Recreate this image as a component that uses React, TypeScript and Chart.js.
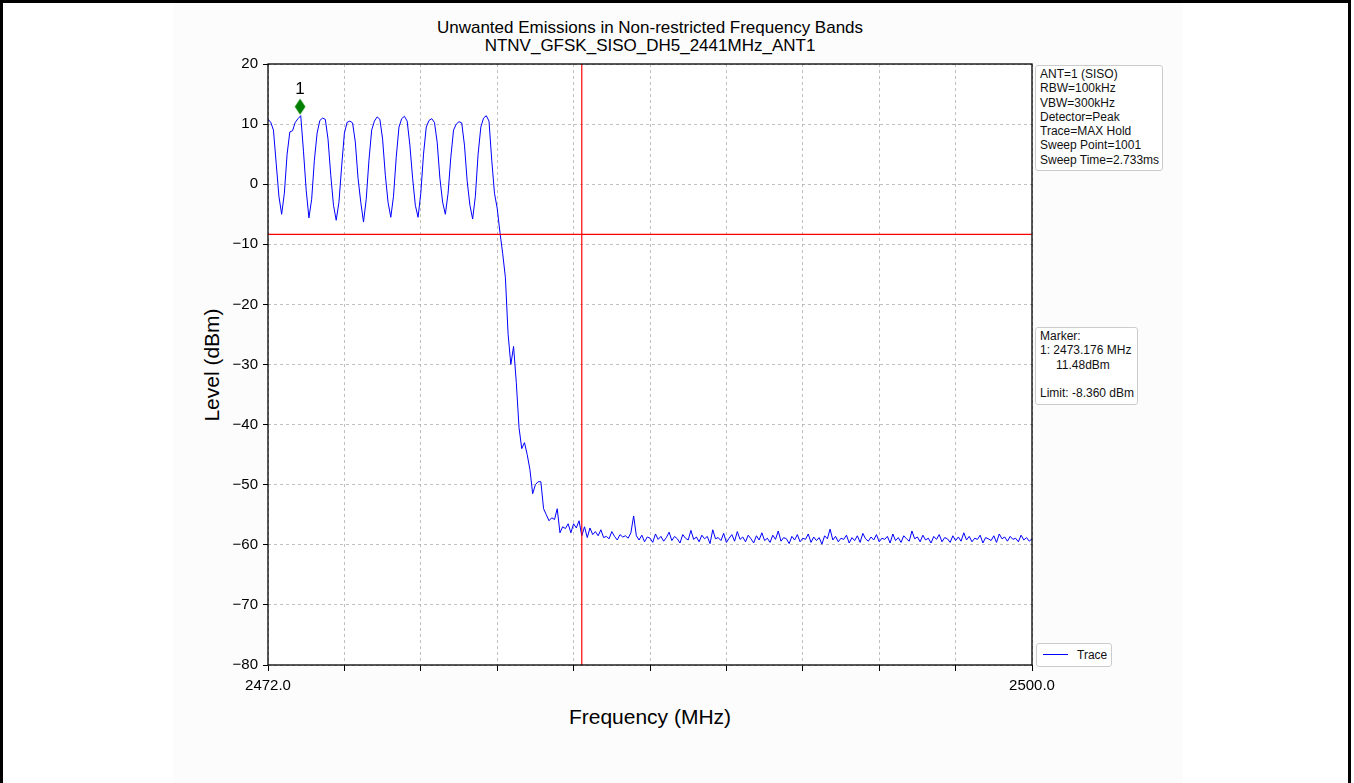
import React, { useEffect, useRef } from "react";
import { Chart, registerables } from "chart.js";

Chart.register(...registerables);

// ---- data ----
const TITLE_LINES = [
  "Unwanted Emissions in Non-restricted Frequency Bands",
  "NTNV_GFSK_SISO_DH5_2441MHz_ANT1",
];
const X_LABEL = "Frequency (MHz)";
const Y_LABEL = "Level (dBm)";

const FREQ_START = 2472.0;
const FREQ_STOP = 2500.0;
const FREQ_STEP = 0.1;

// trace levels (dBm), one per 0.1 MHz from 2472.0 to 2500.0
const LEVELS = [
  // 2472.0 - 2472.9
  10.8, 10.3, 9.0, 3.5, -2.0, -5.0, -1.5, 5.0, 8.7, 8.9,
  // 2473.0 - 2473.9
  10.3, 10.9, 11.4, 5.5, -1.0, -5.6, -2.5, 4.0, 8.5, 10.6,
  // 2474.0 - 2474.9
  11.0, 10.8, 7.5, 1.5, -3.5, -6.0, -3.0, 3.0, 8.5, 10.3,
  // 2475.0 - 2475.9
  10.5, 10.2, 7.0, 1.0, -3.0, -6.3, -2.5, 4.0, 9.0, 10.5,
  // 2476.0 - 2476.9
  11.2, 10.8, 7.5, 1.5, -3.0, -5.5, -2.0, 4.5, 9.5, 10.9,
  // 2477.0 - 2477.9
  11.3, 10.5, 6.5, 1.0, -3.5, -5.5, -1.5, 5.0, 9.5, 10.6,
  // 2478.0 - 2478.9
  10.9, 10.3, 7.0, 1.0, -3.0, -5.0, -1.5, 4.5, 9.0, 10.0,
  // 2479.0 - 2479.9
  10.4, 10.2, 6.5, 0.5, -3.5, -5.8, -2.0, 5.0, 9.5, 11.0,
  // 2480.0 - 2480.9
  11.4, 10.5, 4.0, -1.5, -4.0, -8.0, -11.5, -15.5, -25.0, -30.0,
  // 2481.0 - 2481.9
  -27.0, -33.0, -40.5, -44.0, -43.0, -45.0, -47.5, -51.5, -50.0, -49.5,
  // 2482.0 - 2482.9
  -49.5, -54.0, -55.0, -56.0, -55.5, -55.8, -54.0, -58.0, -57.0, -57.3,
  // 2483.0 - 2483.9
  -56.5, -58.0, -56.5, -57.2, -56.0, -58.5, -57.0, -58.8, -57.2, -58.3,
  // 2484.0 - 2484.9
  -57.8, -58.5, -57.5, -58.8, -58.6, -59.0, -57.8, -58.6, -59.2, -58.3,
  // 2485.0 - 2485.4
  -58.7, -58.5, -58.9, -58.0, -55.2,
  // 2485.5 - 2500.0
  -58.5, -59.2, -58.4, -59.5, -58.7, -58.9, -59.6, -58.2, -59.1, -58.6,
  -59.4, -58.8, -57.9, -59.3, -58.6, -59.0, -59.7, -58.3, -58.9, -59.2,
  -57.6, -59.1, -58.7, -59.5, -58.4, -59.0, -58.6, -59.8, -57.5, -59.0,
  -58.8, -59.3, -58.1, -59.6, -58.9, -58.3, -59.4, -57.8, -59.1, -58.7,
  -59.5, -58.4, -59.0, -59.7, -58.5, -59.2, -58.0, -59.3, -58.9, -59.6,
  -58.4, -59.1, -57.7, -59.4, -58.8, -59.0, -59.8, -58.6, -59.2, -58.3,
  -59.5, -58.9, -59.1, -58.2, -59.6, -58.7, -59.3, -58.8, -59.9, -58.5,
  -59.0, -57.4, -59.2, -58.6, -59.5, -58.9, -59.1, -58.4, -59.7, -58.8,
  -59.3, -58.5, -59.6, -58.1, -59.0, -59.4, -58.7, -59.2, -58.3, -59.5,
  -58.9, -59.1, -58.6, -59.7, -58.2, -59.3, -58.8, -59.6, -58.5, -59.0,
  -59.4, -57.7, -59.0, -58.7, -59.5, -58.4, -59.2, -58.9, -59.7, -58.6,
  -59.1, -58.3, -59.5, -58.8, -59.0, -59.6, -58.5, -59.3, -58.7, -59.4,
  -58.0, -59.2, -58.6, -59.5, -58.9, -59.1, -58.4, -59.7, -58.8, -59.0,
  -59.3, -58.5, -59.6, -58.2, -59.0, -58.7, -59.4, -58.6, -59.1, -58.9,
  -59.5, -58.4, -59.2, -58.8, -59.4, -59.0,
];

const LIMIT_LEVEL = -8.36;
const BAND_EDGE_FREQ = 2483.5;
const MARKER_FREQ = 2473.176;
const MARKER_PLOT_LEVEL = 12.9;
const MARKER_LABEL = "1";

const X_TICKS = [2472.0, 2474.8, 2477.6, 2480.4, 2483.2, 2486.0, 2488.8, 2491.6, 2494.4, 2497.2, 2500.0];
const Y_MIN = -80;
const Y_MAX = 20;
const Y_STEP = 10;

const INFO_LINES = [
  "ANT=1 (SISO)",
  "RBW=100kHz",
  "VBW=300kHz",
  "Detector=Peak",
  "Trace=MAX Hold",
  "Sweep Point=1001",
  "Sweep Time=2.733ms",
];
const MARKER_LINES = ["Marker:", "1: 2473.176 MHz", "11.48dBm", "", "Limit: -8.360 dBm"];
const LEGEND_LABEL = "Trace";

const FONT = "'Liberation Sans', Arial, Helvetica, sans-serif";

function makeDiamond(): HTMLCanvasElement {
  const c = document.createElement("canvas");
  c.width = 12;
  c.height = 17;
  const g = c.getContext("2d")!;
  g.fillStyle = "#008000";
  g.beginPath();
  g.moveTo(6, 0.5);
  g.lineTo(11.3, 8.5);
  g.lineTo(6, 16.5);
  g.lineTo(0.7, 8.5);
  g.closePath();
  g.fill();
  return c;
}

export default function App() {
  const canvasRef = useRef<HTMLCanvasElement | null>(null);

  useEffect(() => {
    const canvas = canvasRef.current;
    if (!canvas) return;

    const tracePts = LEVELS.map((v, i) => ({ x: FREQ_START + i * FREQ_STEP, y: v }));

    const framePlugin = {
      id: "framePlugin",
      beforeDraw(chart: any) {
        const { ctx, chartArea } = chart;
        ctx.save();
        ctx.fillStyle = "#ffffff";
        ctx.fillRect(chartArea.left, chartArea.top, chartArea.right - chartArea.left, chartArea.bottom - chartArea.top);
        ctx.restore();
      },
      afterDraw(chart: any) {
        const { ctx, chartArea, scales } = chart;
        ctx.save();
        ctx.strokeStyle = "#000000";
        ctx.lineWidth = 1.3;
        ctx.strokeRect(chartArea.left, chartArea.top, chartArea.right - chartArea.left, chartArea.bottom - chartArea.top);
        const mx = scales.x.getPixelForValue(MARKER_FREQ);
        const my = scales.y.getPixelForValue(MARKER_PLOT_LEVEL);
        ctx.fillStyle = "#000000";
        ctx.font = `17px ${FONT}`;
        ctx.textAlign = "center";
        ctx.textBaseline = "middle";
        ctx.fillText(MARKER_LABEL, mx, my - 17);
        ctx.restore();
      },
    };

    const chart = new Chart(canvas, {
      type: "line",
      data: {
        datasets: [
          {
            label: LEGEND_LABEL,
            data: tracePts,
            borderColor: "#0000ff",
            borderWidth: 1,
            pointRadius: 0,
            tension: 0,
            order: 3,
          },
          {
            label: "Limit",
            data: [
              { x: FREQ_START, y: LIMIT_LEVEL },
              { x: FREQ_STOP, y: LIMIT_LEVEL },
            ],
            borderColor: "#ff0000",
            borderWidth: 1.2,
            pointRadius: 0,
            order: 2,
          },
          {
            label: "Band edge",
            data: [
              { x: BAND_EDGE_FREQ, y: Y_MIN },
              { x: BAND_EDGE_FREQ, y: Y_MAX },
            ],
            borderColor: "#ff0000",
            borderWidth: 1.2,
            pointRadius: 0,
            order: 2,
          },
          {
            label: "Marker",
            data: [{ x: MARKER_FREQ, y: MARKER_PLOT_LEVEL }],
            showLine: false,
            pointStyle: makeDiamond() as any,
            pointRadius: 6,
            borderWidth: 0,
            order: 1,
          },
        ],
      },
      options: {
        animation: false,
        responsive: false,
        devicePixelRatio: 1,
        layout: { padding: { left: 208, right: 322, top: 64, bottom: 68 } },
        plugins: {
          legend: { display: false },
          tooltip: { enabled: false },
          title: { display: false },
        },
        scales: {
          x: {
            type: "linear",
            min: FREQ_START,
            max: FREQ_STOP,
            afterBuildTicks: (scale: any) => {
              scale.ticks = X_TICKS.map((v) => ({ value: v }));
            },
            afterFit: (scale: any) => {
              scale.height = 50;
            },
            ticks: {
              autoSkip: false,
              maxRotation: 0,
              color: "#000000",
              padding: 6,
              font: { family: FONT, size: 15 },
              callback: (value: any, index: number, ticks: any[]) =>
                index === 0 || index === ticks.length - 1 ? Number(value).toFixed(1) : "",
            },
            grid: {
              color: "#b0b0b0",
              lineWidth: 0.8,
              drawTicks: true,
              tickLength: 6,
              tickColor: "#000000",
              tickWidth: 1,
            },
            border: { display: false, dash: [3, 3] },
          },
          y: {
            type: "linear",
            min: Y_MIN,
            max: Y_MAX,
            afterFit: (scale: any) => {
              scale.width = 60;
            },
            ticks: {
              stepSize: Y_STEP,
              color: "#000000",
              padding: 5,
              font: { family: FONT, size: 15 },
              callback: (value: any) => {
                const v = Number(value);
                return v < 0 ? "\u2212" + Math.abs(v) : String(v);
              },
            },
            grid: {
              color: "#b0b0b0",
              lineWidth: 0.8,
              drawTicks: true,
              tickLength: 5,
              tickColor: "#000000",
              tickWidth: 1,
            },
            border: { display: false, dash: [3, 3] },
          },
        },
      },
      plugins: [framePlugin],
    } as any);

    return () => {
      chart.destroy();
    };
  }, []);

  const boxStyle: React.CSSProperties = {
    position: "absolute",
    background: "#ffffff",
    border: "1px solid #cccccc",
    borderRadius: 3,
    fontFamily: FONT,
    fontSize: 12,
    lineHeight: "14.3px",
    color: "#111111",
    boxSizing: "border-box",
    whiteSpace: "pre",
  };

  return (
    <div
      style={{
        position: "fixed",
        left: 0,
        top: 0,
        width: 1354,
        height: 783,
        background: "#ffffff",
        overflow: "hidden",
      }}
    >
      <div
        style={{
          position: "absolute",
          left: 173,
          top: 0,
          width: 1010,
          height: 783,
          background: "#fcfcfc",
        }}
      />
      <div
        style={{
          position: "absolute",
          left: 0,
          top: 0,
          width: 1351,
          height: 790,
          borderTop: "3px solid #000",
          borderLeft: "3px solid #000",
          borderRight: "3px solid #000",
          boxSizing: "border-box",
        }}
      />
      {TITLE_LINES.map((t, i) => (
        <div
          key={i}
          style={{
            position: "absolute",
            left: 650,
            top: 28 + i * 18,
            transform: "translate(-50%, -50%)",
            fontFamily: FONT,
            fontSize: 17,
            whiteSpace: "nowrap",
            color: "#000",
          }}
        >
          {t}
        </div>
      ))}
      <div
        style={{
          position: "absolute",
          left: 650,
          top: 717,
          transform: "translate(-50%, -50%)",
          fontFamily: FONT,
          fontSize: 21,
          whiteSpace: "nowrap",
          color: "#000",
        }}
      >
        {X_LABEL}
      </div>
      <div
        style={{
          position: "absolute",
          left: 212,
          top: 365,
          transform: "translate(-50%, -50%) rotate(-90deg)",
          fontFamily: FONT,
          fontSize: 21,
          whiteSpace: "nowrap",
          color: "#000",
        }}
      >
        {Y_LABEL}
      </div>
      <canvas
        ref={canvasRef}
        width={1354}
        height={783}
        style={{ position: "absolute", left: 0, top: 0, width: 1354, height: 783 }}
      />
      <div style={{ ...boxStyle, left: 1035, top: 65, width: 128, height: 106, padding: "1px 4px" }}>
        {INFO_LINES.map((l, i) => (
          <div key={i}>{l}</div>
        ))}
      </div>
      <div style={{ ...boxStyle, left: 1035, top: 327, width: 103, height: 78, padding: "1px 4px" }}>
        {MARKER_LINES.map((l, i) => (
          <div key={i} style={{ paddingLeft: i === 2 ? 16 : 0, height: 14.3 }}>
            {l}
          </div>
        ))}
      </div>
      <div style={{ ...boxStyle, left: 1036, top: 643, width: 76, height: 24 }}>
        <div
          style={{
            position: "absolute",
            left: 6,
            top: 10,
            width: 25,
            height: 0,
            borderTop: "1.5px solid #0000ff",
          }}
        />
        <div style={{ position: "absolute", left: 40, top: 4 }}>{LEGEND_LABEL}</div>
      </div>
    </div>
  );
}
